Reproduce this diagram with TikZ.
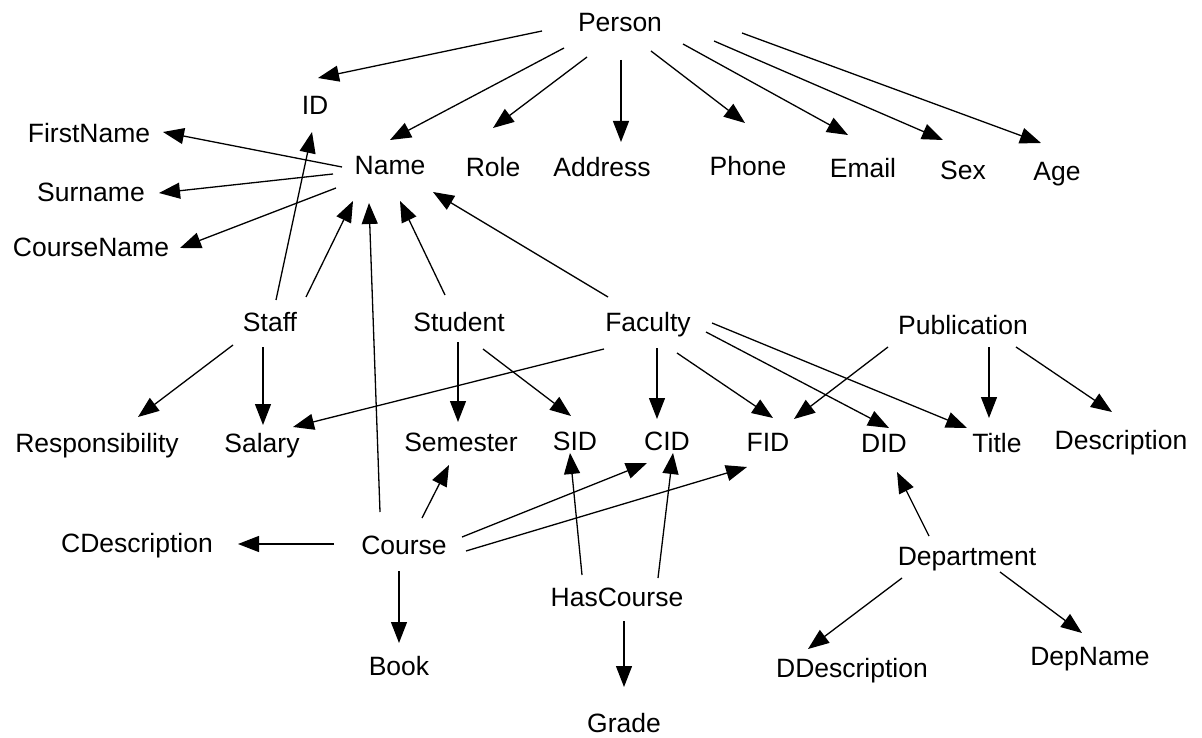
\documentclass[tikz,border=0pt]{standalone}
\usepackage{fontspec}
\setmainfont{Liberation Sans}
\usetikzlibrary{arrows.meta}
% connector between two named nodes, each end given as an offset from the node centre
\newcommand\link[4]{\draw[link] ([shift={(#2)}]#1.center) -- ([shift={(#4)}]#3.center);}
\begin{document}
\begin{tikzpicture}[x=1pt,y=-1pt,
  lbl/.style={inner sep=0pt,text height=19pt,text depth=0pt,
    font=\fontsize{26.5}{30}\selectfont},
  link/.style={line width=1.3pt,-{Triangle[length=21pt,width=16pt]}}]
\useasboundingbox (0,0) rectangle (1202,738);
\fill[white] (0,0) rectangle (1202,738);

% attribute and entity labels
\node[lbl] (Person) at (620,22) {Person};
\node[lbl] (ID) at (315,105) {ID};
\node[lbl] (FirstName) at (89,133) {FirstName};
\node[lbl] (Name) at (390,165) {Name};
\node[lbl] (Role) at (493,167) {Role};
\node[lbl] (Address) at (602,167) {Address};
\node[lbl] (Phone) at (748,166) {Phone};
\node[lbl] (Email) at (863,168) {Email};
\node[lbl] (Sex) at (963,170) {Sex};
\node[lbl] (Age) at (1057,171) {Age};
\node[lbl] (Surname) at (91,192) {Surname};
\node[lbl] (CourseName) at (91,247) {CourseName};
\node[lbl] (Staff) at (270,322) {Staff};
\node[lbl] (Student) at (459,322) {Student};
\node[lbl] (Faculty) at (648,322) {Faculty};
\node[lbl] (Publication) at (963,325) {Publication};
\node[lbl] (Responsibility) at (97,443) {Responsibility};
\node[lbl] (Salary) at (262,443) {Salary};
\node[lbl] (Semester) at (461,442) {Semester};
\node[lbl] (SID) at (575,441) {SID};
\node[lbl] (CID) at (667,441) {CID};
\node[lbl] (FID) at (768,442) {FID};
\node[lbl] (DID) at (884,443) {DID};
\node[lbl] (Title) at (997,443) {Title};
\node[lbl] (Description) at (1121,440) {Description};
\node[lbl] (CDescription) at (137,543) {CDescription};
\node[lbl] (Course) at (404,545) {Course};
\node[lbl] (HasCourse) at (617,597) {HasCourse};
\node[lbl] (Department) at (967,556) {Department};
\node[lbl] (Book) at (399,666) {Book};
\node[lbl] (DDescription) at (852,668) {DDescription};
\node[lbl] (DepName) at (1090,656) {DepName};
\node[lbl] (Grade) at (624,723) {Grade};

% Person
\link{Person}{-78,9}{ID}{3,-27}
\link{Person}{-56,26}{Name}{0,-25}
\link{Person}{-33,35}{Role}{0,-39}
\link{Person}{1,38}{Address}{19,-25}
\link{Person}{31,29}{Phone}{-3,-43}
\link{Person}{63,22}{Email}{-15,-33}
\link{Person}{94,19}{Sex}{-20,-30}
\link{Person}{122,11}{Age}{-16,-28}
% Name
\link{Name}{-48,2}{FirstName}{74,-1}
\link{Name}{-57,9}{Surname}{68,1}
\link{Name}{-54,23}{CourseName}{89,1}
% Staff, Student, Faculty, Course into ID / Name
\link{Staff}{6,-22}{ID}{-3,27}
\link{Staff}{36,-25}{Name}{-37,36}
\link{Course}{-24,-33}{Name}{-21,38}
\link{Student}{-14,-27}{Name}{10,36}
\link{Faculty}{-40,-25}{Name}{43,27}
% Staff
\link{Staff}{-37,23}{Responsibility}{41,-26}
\link{Staff}{-7,25}{Salary}{1,-18}
% Faculty
\link{Faculty}{-44,27}{Salary}{31,-16}
\link{Faculty}{9,26}{CID}{-10,-22}
\link{Faculty}{29,31}{FID}{5,-24}
\link{Faculty}{58,10}{DID}{5,-15}
\link{Faculty}{64,1}{Title}{-30,-15}
% Student
\link{Student}{-1,20}{Semester}{-3,-20}
\link{Student}{24,27}{SID}{-4,-25}
% Publication
\link{Publication}{-75,22}{FID}{26,-23}
\link{Publication}{26,22}{Title}{-8,-25}
\link{Publication}{53,22}{Description}{-9,-28}
% Course
\link{Course}{18,-27}{Semester}{-12,23}
\link{Course}{58,-8}{CID}{-20,22}
\link{Course}{62,6}{FID}{-21,25}
\link{Course}{-70,-1}{CDescription}{101,1}
\link{Course}{-5,26}{Book}{0,-23}
% HasCourse
\link{HasCourse}{-35,-22}{SID}{-5,12}
\link{HasCourse}{41,-19}{CID}{6,12}
\link{HasCourse}{7,24}{Grade}{0,-36}
% Department
\link{Department}{-38,-20}{DID}{13,29}
\link{Department}{-65,22}{DDescription}{-44,-19}
\link{Department}{33,16}{DepName}{-8,-23}
\end{tikzpicture}
\end{document}
